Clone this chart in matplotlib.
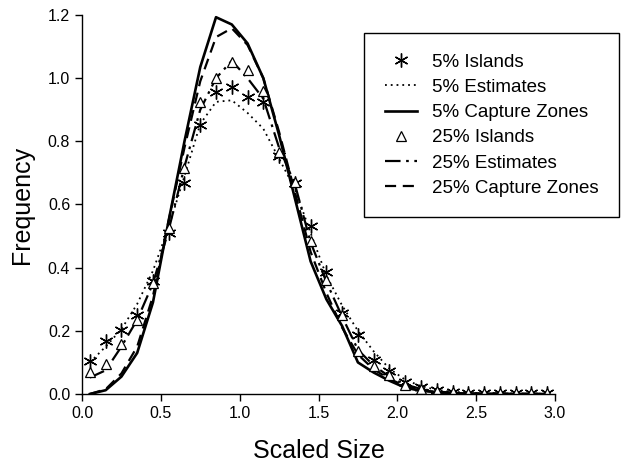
import numpy as np
import matplotlib.pyplot as plt

plt.rcParams['font.family'] = ['Liberation Sans', 'DejaVu Sans']

# bin centres (scaled size)
scaled_size = [0.05, 0.15, 0.25, 0.35, 0.45, 0.55, 0.65, 0.75, 0.85, 0.95,
               1.05, 1.15, 1.25, 1.35, 1.45, 1.55, 1.65, 1.75, 1.85, 1.95,
               2.05, 2.15, 2.25, 2.35, 2.45, 2.55, 2.65, 2.75, 2.85, 2.95]

islands_5 = [0.104, 0.168, 0.203, 0.250, 0.359, 0.511, 0.667, 0.852, 0.957, 0.971,
             0.941, 0.926, 0.754, 0.667, 0.532, 0.387, 0.257, 0.187, 0.108, 0.073,
             0.039, 0.021, 0.013, 0.006, 0.004, 0.003, 0.002, 0.002, 0.002, 0.002]
estimates_5 = [0.100, 0.150, 0.205, 0.285, 0.390, 0.530, 0.690, 0.855, 0.925, 0.930,
               0.890, 0.840, 0.745, 0.650, 0.510, 0.375, 0.280, 0.200, 0.135, 0.080,
               0.045, 0.025, 0.013, 0.007, 0.004, 0.002, 0.002, 0.001, 0.001, 0.001]
capture_5 = [0.000, 0.012, 0.055, 0.130, 0.290, 0.550, 0.800, 1.035, 1.193, 1.170,
             1.110, 1.000, 0.820, 0.620, 0.420, 0.300, 0.215, 0.100, 0.068, 0.042,
             0.020, 0.010, 0.006, 0.003, 0.001, 0.001, 0.001, 0.000, 0.000, 0.000]
islands_25 = [0.069, 0.094, 0.157, 0.234, 0.350, 0.525, 0.717, 0.924, 1.000, 1.052,
              1.026, 0.958, 0.765, 0.670, 0.484, 0.361, 0.250, 0.135, 0.090, 0.060,
              0.030, 0.016, 0.010, 0.005, 0.003, 0.002, 0.002, 0.002, 0.002, 0.002]
estimates_25 = [0.052, 0.075, 0.150, 0.235, 0.350, 0.520, 0.720, 0.900, 1.000, 1.055,
                1.000, 0.935, 0.780, 0.665, 0.480, 0.355, 0.245, 0.140, 0.090, 0.055,
                0.030, 0.016, 0.008, 0.004, 0.002, 0.001, 0.001, 0.001, 0.001, 0.001]
capture_25 = [0.000, 0.015, 0.065, 0.150, 0.310, 0.550, 0.780, 0.990, 1.130, 1.158,
              1.105, 1.000, 0.830, 0.640, 0.450, 0.320, 0.210, 0.125, 0.078, 0.048,
              0.025, 0.012, 0.006, 0.003, 0.001, 0.001, 0.001, 0.000, 0.000, 0.000]

fig = plt.figure(figsize=(6.38, 4.68), dpi=100)
ax = fig.add_axes([82 / 638, 74 / 468, 473 / 638, 379 / 468])

# lines first, markers on top
h_est5, = ax.plot(scaled_size, estimates_5, color='black', lw=1.3, linestyle=(0, (1, 2.2)))
h_cap5, = ax.plot(scaled_size, capture_5, color='black', lw=1.9, linestyle='-')
h_est25, = ax.plot(scaled_size, estimates_25, color='black', lw=1.6, linestyle=(0, (7, 2.5, 1.2, 2.5)))
h_cap25, = ax.plot(scaled_size, capture_25, color='black', lw=1.6, linestyle=(0, (5, 3)))
h_isl5, = ax.plot(scaled_size, islands_5, linestyle='none', marker=(6, 2, 0), markersize=10,
                  markeredgecolor='black', markeredgewidth=1.0)
h_isl25, = ax.plot(scaled_size, islands_25, linestyle='none', marker='^', markersize=7,
                   markerfacecolor='white', markeredgecolor='black', markeredgewidth=0.9)

ax.set_xlim(0, 3.0)
ax.set_ylim(0, 1.2)
ax.set_xticks([0.0, 0.5, 1.0, 1.5, 2.0, 2.5, 3.0])
ax.set_yticks([0.0, 0.2, 0.4, 0.6, 0.8, 1.0, 1.2])
ax.xaxis.set_major_formatter(plt.FormatStrFormatter('%.1f'))
ax.yaxis.set_major_formatter(plt.FormatStrFormatter('%.1f'))
ax.tick_params(direction='out', length=5, width=1, labelsize=11.5, colors='black')
for side in ['top', 'right']:
    ax.spines[side].set_visible(False)
for side in ['left', 'bottom']:
    ax.spines[side].set_linewidth(1)

ax.set_xlabel('Scaled Size', fontsize=18, labelpad=13)
ax.set_ylabel('Frequency', fontsize=18, labelpad=10)

leg = fig.legend([h_isl5, h_est5, h_cap5, h_isl25, h_est25, h_cap25],
                 ['5% Islands', '5% Estimates', '5% Capture Zones',
                  '25% Islands', '25% Estimates', '25% Capture Zones'],
                 loc='upper right', bbox_to_anchor=(619 / 638, 1 - 33 / 468),
                 borderaxespad=0, fontsize=13.5, numpoints=1, handlelength=1.7,
                 handletextpad=0.8, labelspacing=0.43, borderpad=1.1,
                 fancybox=False, framealpha=1, edgecolor='black')
leg.get_frame().set_linewidth(1)

fig.savefig('out.png', dpi=100)
